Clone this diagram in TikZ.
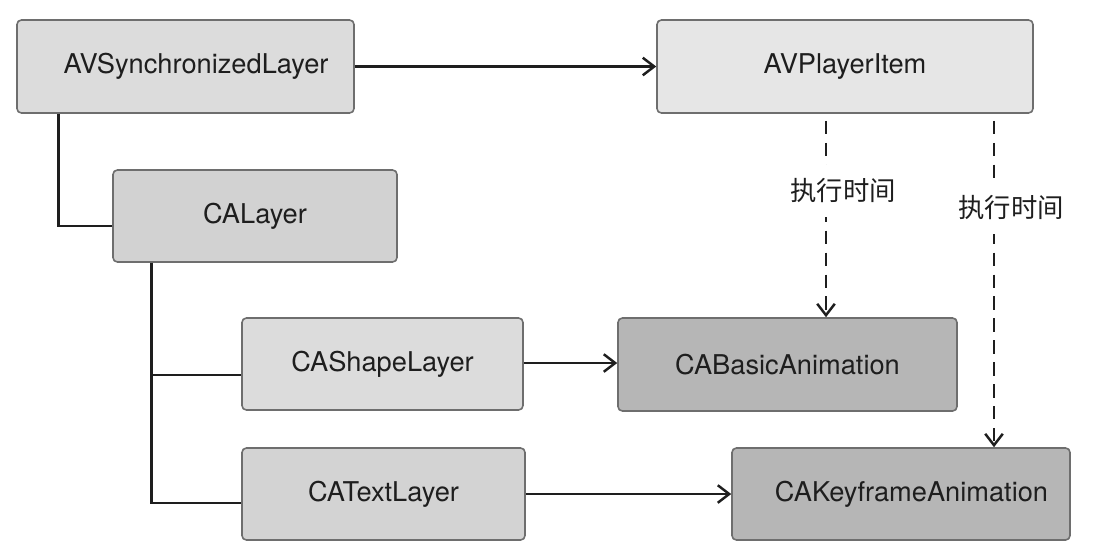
\documentclass[tikz,border=0pt]{standalone}
\usepackage{fontspec}
\setmainfont{TeX Gyre Heros}
\newfontfamily\cjk{Noto Sans CJK SC}
\usetikzlibrary{arrows.meta,calc}
\definecolor{lightbox}{HTML}{DCDCDC}
\definecolor{midbox}{HTML}{D2D2D2}
\definecolor{darkbox}{HTML}{B6B6B6}
\definecolor{edgegray}{HTML}{6E6E6E}
\definecolor{inkgray}{HTML}{1E1E1E}
\begin{document}
\begin{tikzpicture}[x=0.02cm,y=-0.02cm,
  box/.style={draw=edgegray, line width=0.9pt, rounded corners=2.5pt, rectangle,
    font=\fontsize{15.5}{18}\selectfont, text=inkgray, anchor=center, inner sep=0pt},
  link/.style={draw=inkgray, line width=1.5pt},
  arr/.style={link, -{Straight Barb[length=6.5pt,width=10pt,line width=1.4pt]}},
  darr/.style={arr, dash pattern=on 7.5pt off 5pt},
  lbl/.style={fill=white, font=\cjk\fontsize{15}{18}\selectfont, text=inkgray, inner sep=3pt, inner ysep=8pt}
]
\useasboundingbox (0,0) rectangle (1103,556);
\fill[white] (0,0) rectangle (1103,556);

\node[box, fill=lightbox, minimum width=337*0.02cm, minimum height=93*0.02cm] (avs) at (185.5,66.5) {\hspace{12pt}AVSynchronizedLayer};
\node[box, fill=midbox, minimum width=284*0.02cm, minimum height=92*0.02cm] (cal) at (255,216) {CALayer};
\node[box, fill=lightbox!70!white, minimum width=376*0.02cm, minimum height=93*0.02cm] (avp) at (845,66.5) {AVPlayerItem};
\node[box, fill=lightbox, minimum width=281*0.02cm, minimum height=92*0.02cm] (shp) at (382.5,364) {CAShapeLayer};
\node[box, fill=lightbox!96!black, minimum width=283*0.02cm, minimum height=92*0.02cm] (txt) at (383.5,494) {CATextLayer};
\node[box, fill=darkbox, minimum width=339*0.02cm, minimum height=93*0.02cm] (cab) at (787.5,364.5) {CABasicAnimation};
\node[box, fill=darkbox, minimum width=338*0.02cm, minimum height=92*0.02cm] (cak) at (901,494) {\hspace{12pt}CAKeyframeAnimation};

% tree lines
\draw[link] ($(avs.south west)+(42,0)$) |- ([yshift=-0.2cm]cal.west);
\draw[link] ($(cal.south west)+(39,0)$) coordinate (trunk) |- ([yshift=-0.22cm]shp.west);
\draw[link] (trunk) |- ([yshift=-0.18cm]txt.west);

% solid arrows
\draw[arr] (avs.east) -- (avp.west);
\draw[arr] ([yshift=0.02cm]shp.east) -- ([yshift=0.02cm]shp.east -| cab.west);
\draw[arr] (txt.east) -- (txt.east -| cak.west);

% dashed arrows
\coordinate (d1) at ($(avp.south)+(-19,7)$);
\coordinate (d2) at ($(avp.south)+(149,7)$);
\draw[darr] (d1) -- (d1 |- cab.north);
\draw[darr] (d2) -- (d2 |- cak.north);
\node[lbl] (l1) at (843,191) {执行时间};
\node[lbl] (l2) at (1011,208) {执行时间};
\end{tikzpicture}
\end{document}
